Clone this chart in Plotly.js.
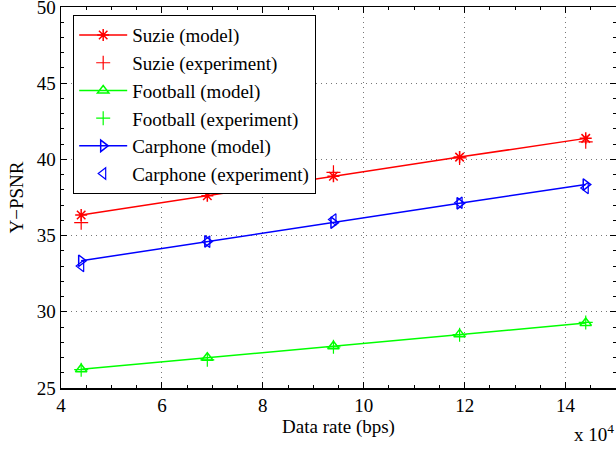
<!DOCTYPE html>
<html>
<head>
<meta charset="utf-8">
<script src="https://cdn.plot.ly/plotly-3.0.1.min.js"></script>
<style>html,body{margin:0;padding:0;background:#fff;}</style>
</head>
<body>
<div id="chart" style="width:616px;height:450px;"></div>
<script>
// Data rate (x 10^4 bps)
const rates = [4.4, 6.9, 9.4, 11.9, 14.4];
const suzieModel = [36.35, 37.62, 38.9, 40.15, 41.38];
const suzieExp = [35.85, 37.95, 39.15, 40.1, 41.15];
const footballModel = [26.23, 26.98, 27.74, 28.52, 29.26];
const footballExp = [26.2, 26.85, 27.7, 28.5, 29.3];
const carphoneModel = [33.35, 34.62, 35.85, 37.12, 38.35];
const carphoneExp = [33.0, 34.6, 36.05, 37.15, 38.12];
const xTicks = [4, 6, 8, 10, 12, 14];
const yTicks = [25, 30, 35, 40, 45, 50];

const font = {family: 'Liberation Serif, Times New Roman, serif', size: 19, color: '#000'};

function model(name, y, color, symbol) {
  return {x: rates, y: y, name: name, type: 'scatter', mode: 'lines+markers',
    line: {color: color, width: 1.5},
    marker: {symbol: symbol, size: 10, color: color, line: {color: color, width: 1.5}}};
}
function exp(name, y, color, symbol) {
  return {x: rates, y: y, name: name, type: 'scatter', mode: 'markers',
    marker: {symbol: symbol, size: 10, color: color, line: {color: color, width: 1.2}}};
}

const traces = [
  model('Suzie (model)', suzieModel, '#ff0000', 'asterisk-open'),
  exp('Suzie (experiment)', suzieExp, '#ff0000', 'cross-thin-open'),
  model('Football (model)', footballModel, '#00ff00', 'triangle-up-open'),
  exp('Football (experiment)', footballExp, '#00ff00', 'cross-thin-open'),
  model('Carphone (model)', carphoneModel, '#0000ff', 'triangle-right-open'),
  exp('Carphone (experiment)', carphoneExp, '#0000ff', 'triangle-left-open')
];

const axisCommon = {
  showline: true, linecolor: '#000', linewidth: 1.5, mirror: 'ticks',
  ticks: 'inside', ticklen: 6, tickcolor: '#000', tickwidth: 1,
  showgrid: true, gridcolor: '#777', griddash: '1px,4px', gridwidth: 1,
  zeroline: false, tickfont: font, ticklabeloverflow: 'allow'
};

const layout = {
  width: 616, height: 450,
  margin: {l: 61, r: 0, t: 7, b: 62},
  paper_bgcolor: '#fff', plot_bgcolor: '#fff',
  font: font,
  showlegend: true,
  legend: {x: 0.0216, y: 0.979, xanchor: 'left', yanchor: 'top',
    bgcolor: '#fff', bordercolor: '#000', borderwidth: 1.2,
    font: font, tracegroupgap: 0, itemwidth: 48},
  xaxis: Object.assign({}, axisCommon, {
    range: [4, 15], tickvals: xTicks, ticktext: xTicks.map(String),
    minor: {ticks: 'inside', ticklen: 3, dtick: 0.5, tickcolor: '#000', showgrid: false},
    title: {text: 'Data rate (bps)', font: font, standoff: 1}
  }),
  yaxis: Object.assign({}, axisCommon, {
    range: [25, 50], tickvals: yTicks, ticktext: yTicks.map(String),
    minor: {ticks: 'inside', ticklen: 3, dtick: 1, tickcolor: '#000', showgrid: false},
    title: {text: 'Y\u2212PSNR', font: font, standoff: 8}
  }),
  annotations: [{
    xref: 'paper', yref: 'paper', x: 1.0, y: -0.082, xanchor: 'right', yanchor: 'top',
    text: 'x 10<sup>4</sup>', showarrow: false, font: font
  }]
};

Plotly.newPlot('chart', traces, layout, {staticPlot: true, displayModeBar: false});
</script>
</body>
</html>
